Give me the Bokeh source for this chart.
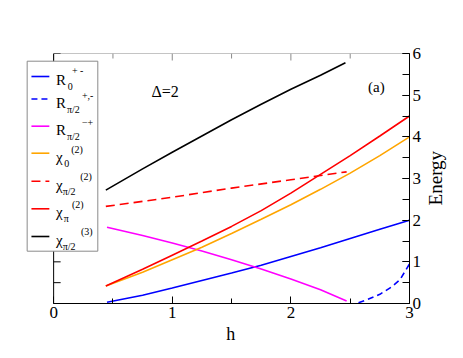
import math
import numpy as np
from bokeh.plotting import figure
from bokeh.layouts import row
from bokeh.core.properties import value
from bokeh.models import (Range1d, LinearAxis, SingleIntervalTicker, Span, BoxAnnotation, Label)
from bokeh.embed import file_html
from bokeh.resources import INLINE

# ---------------- data ----------------
h_R0 = [0.45, 0.75, 1.0, 1.25, 1.5, 1.75, 2.0, 2.25, 2.5, 2.75, 3.0]
E_R0 = [0.03, 0.20, 0.37, 0.55, 0.73, 0.92, 1.13, 1.34, 1.56, 1.78, 2.0]

h_Rpi2_pm = [2.57, 2.65, 2.75, 2.85, 2.92, 3.0]
E_Rpi2_pm = [0.02, 0.10, 0.22, 0.40, 0.57, 0.95]

h_Rpi2_mp = [0.45, 0.75, 1.0, 1.25, 1.5, 1.75, 2.0, 2.25, 2.47]
E_Rpi2_mp = [1.83, 1.63, 1.45, 1.26, 1.05, 0.83, 0.59, 0.33, 0.06]

h_chi0 = [0.44, 0.75, 1.0, 1.25, 1.5, 1.75, 2.0, 2.25, 2.5, 2.75, 3.0]
E_chi0 = [0.42, 0.75, 1.05, 1.35, 1.68, 2.02, 2.37, 2.74, 3.13, 3.55, 4.0]

h_chipi2 = [0.44, 1.0, 1.5, 2.0, 2.47]
E_chipi2 = [2.33, 2.55, 2.77, 2.97, 3.16]

h_chipi = [0.44, 0.75, 1.0, 1.25, 1.5, 1.75, 2.0, 2.25, 2.5, 2.75, 3.0]
E_chipi = [0.42, 0.82, 1.16, 1.50, 1.85, 2.23, 2.65, 3.10, 3.55, 4.02, 4.5]

h_chi3 = [0.44, 0.75, 1.0, 1.25, 1.5, 1.75, 2.0, 2.25, 2.46]
E_chi3 = [2.72, 3.23, 3.63, 4.02, 4.41, 4.78, 5.14, 5.48, 5.78]

x_ticks_major = [0, 1, 2, 3]
y_ticks_major = [0, 1, 2, 3, 4, 5, 6]

FONT = "Liberation Serif"

W, H = 424, 358
ML, MR, MT, MB = 20, 13, 53, 55
ppu_x = (W - MR - 53.3) / 3.0
x0 = -(53.3 - ML) / ppu_x
ppu_y = (H - MT - MB) / 6.0

def X(rx):
    return x0 + (rx - ML) / ppu_x

def Y(ry):
    return (303.0 - ry) / ppu_y

p = figure(width=W, height=H, output_backend="svg", toolbar_location=None,
           x_range=Range1d(x0, 3.0), y_range=Range1d(0, 6),
           x_axis_location=None, y_axis_location=None,
           min_border_left=ML, min_border_right=MR, min_border_top=MT, min_border_bottom=MB)
p.outline_line_color = None
p.xgrid.visible = False
p.ygrid.visible = False
p.background_fill_color = "white"
p.border_fill_color = "white"

def style_axis(ax, color="black"):
    ax.axis_line_color = color
    ax.major_tick_line_color = color
    ax.minor_tick_line_color = color
    ax.major_tick_in = 7
    ax.major_tick_out = 0
    ax.minor_tick_in = 5
    ax.minor_tick_out = 0
    ax.major_label_text_font = FONT
    ax.major_label_text_font_size = "17px"
    ax.major_label_text_font_style = "normal"
    ax.major_label_text_color = "black"
    ax.axis_label_text_font = FONT
    ax.axis_label_text_font_size = "18px"
    ax.axis_label_text_font_style = "normal"
    ax.axis_label_text_color = "black"

NB = "\u00a0"
bottom = LinearAxis(ticker=SingleIntervalTicker(interval=1, num_minor_ticks=2), bounds=(0, 3),
                    axis_label=NB * 7 + "h")
style_axis(bottom)
bottom.major_label_standoff = 3
bottom.axis_label_standoff = 3
p.add_layout(bottom, "below")

right = LinearAxis(ticker=SingleIntervalTicker(interval=1, num_minor_ticks=2))
style_axis(right)
right.minor_tick_in = 7
right.major_label_standoff = 3
p.add_layout(right, "right")

# top frame line (grey) with inward ticks
top_major = x_ticks_major
top_minor = [v + 0.5 for v in x_ticks_major[:-1]]
p.segment(x0=[0], y0=[6], x1=[3], y1=[6], line_color="#8a8a8a", line_width=1)
p.ray(x=top_major, y=[6] * len(top_major), length=7, angle=-math.pi / 2,
      length_units="screen", line_color="#8a8a8a", line_width=1)
p.ray(x=top_minor, y=[6] * len(top_minor), length=5, angle=-math.pi / 2,
      length_units="screen", line_color="#8a8a8a", line_width=1)

# left axis line at h = 0 with inward ticks
p.add_layout(Span(location=0, dimension="height", line_color="black", line_width=1))
minor_left = [v + 0.5 for v in y_ticks_major[:-1]]
p.ray(x=[0] * len(y_ticks_major), y=y_ticks_major, length=7, angle=0,
      length_units="screen", line_color="black", line_width=1)
p.ray(x=[0] * len(minor_left), y=minor_left, length=7, angle=0,
      length_units="screen", line_color="black", line_width=1)

LW = 1.6
p.line(h_R0, E_R0, line_color="#0000ff", line_width=LW)
p.line(h_Rpi2_pm, E_Rpi2_pm, line_color="#0000ff", line_width=LW, line_dash="6 4")
p.line(h_Rpi2_mp, E_Rpi2_mp, line_color="#ff00ff", line_width=LW)
p.line(h_chi0, E_chi0, line_color="#ffa500", line_width=LW)
p.line(h_chipi2, E_chipi2, line_color="#ff0000", line_width=LW, line_dash="9 5")
p.line(h_chipi, E_chipi, line_color="#ff0000", line_width=LW)
p.line(h_chi3, E_chi3, line_color="black", line_width=LW)

# legend box
p.add_layout(BoxAnnotation(left=X(26.7), right=X(97.7), top=Y(60.7), bottom=Y(250.7),
                           fill_color="white", fill_alpha=1.0, line_color="#8a8a8a",
                           line_width=1, line_alpha=1.0))

# legend rows: (line y, color, dash, base, sub, sup, sub_x, sup_x, sup_dy)
rows = [
    (76.0, "#0000ff", "solid", "R", "0", "+ -", 67.5, 71.7, -6.0),
    (98.5, "#0000ff", "6 4", "R", "π/2", "+,-", 66.7, 81.7, -3.5),
    (125.7, "#ff00ff", "solid", "R", "π/2", "−+", 66.7, 81.7, -4.0),
    (152.7, "#ffa500", "solid", "χ", "0", "(2)", 64.0, 71.0, -4.0),
    (180.7, "#ff0000", "9 5", "χ", "π/2", "(2)", 62.5, 80.0, -4.7),
    (208.3, "#ff0000", "solid", "χ", "π", "(2)", 63.5, 71.7, -4.5),
    (236.0, "black", "solid", "χ", "π/2", "(3)", 62.5, 80.7, -5.0),
]

def put_text(xs, ys, texts, size):
    r = p.text(x=xs, y=ys, text=texts, text_font=value(FONT), text_font_size=value(size),
               text_baseline="alphabetic", text_align="left", text_color="black")
    r.level = "overlay"
    return r

for ly, col, dash, base, sub, sup, sx, supx, sdy in rows:
    r = p.line([X(31), X(49)], [Y(ly), Y(ly)], line_color=col, line_width=LW, line_dash=dash)
    r.level = "overlay"

put_text([X(55.7)] * len(rows), [Y(r_[0] + 3.5) for r_ in rows], [r_[3] for r_ in rows], "15px")
put_text([X(r_[6]) for r_ in rows], [Y(r_[0] + 10.0) for r_ in rows], [r_[4] for r_ in rows], "10px")
put_text([X(r_[7]) for r_ in rows], [Y(r_[0] + r_[8]) for r_ in rows], [r_[5] for r_ in rows], "10px")

put_text([X(151.7)], [Y(90.7)], ["Δ=2"], "16px")
p.add_layout(Label(x=X(369.3), y=Y(86.0), text="(a)", text_font=FONT, text_font_size="15px",
                   text_baseline="alphabetic", text_align="left", text_color="black"))

# narrow companion panel that carries the rotated y-axis title
W2 = 463 - W
p2 = figure(width=W2, height=H, output_backend="svg", toolbar_location=None,
            x_range=Range1d(0, W2), y_range=Range1d(0, H),
            x_axis_location=None, y_axis_location=None,
            min_border_left=0, min_border_right=0, min_border_top=0, min_border_bottom=0)
p2.outline_line_color = None
p2.xgrid.visible = False
p2.ygrid.visible = False
p2.background_fill_color = "white"
p2.border_fill_color = "white"
p2.add_layout(Label(x=435.0 - W, y=H - 178.5, text="Energy", text_font=FONT,
                    text_font_size="19px", text_baseline="middle", text_align="center",
                    angle=math.pi / 2, text_color="black"))

layout = row(p, p2)
open("out.html", "w").write(file_html(layout, INLINE))
